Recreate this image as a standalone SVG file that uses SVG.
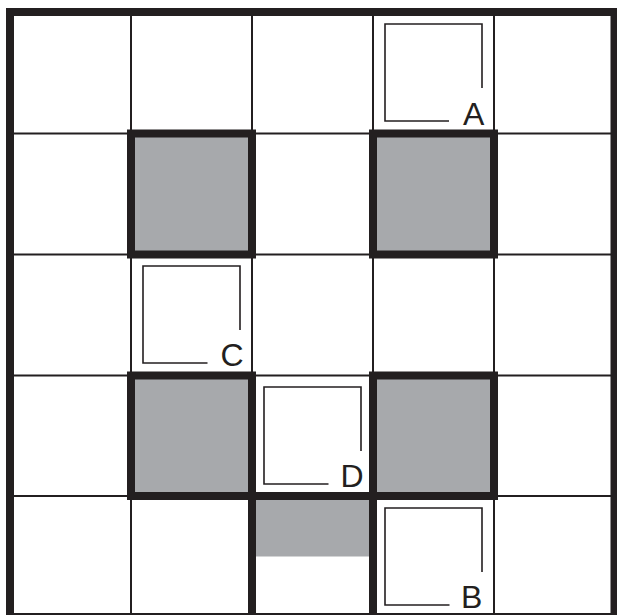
<svg xmlns="http://www.w3.org/2000/svg" width="617" height="615" viewBox="0 0 617 615">
  <style>
    .thin { stroke: #231f20; stroke-width: 2; fill: none; }
    .thick { stroke: #231f20; stroke-width: 8; fill: none; stroke-linecap: square; stroke-linejoin: miter; }
    .shade { fill: #a7a9ac; }
    .room { stroke: #231f20; stroke-width: 1.6; fill: none; }
    .lbl { font-family: "Liberation Sans", Arial, sans-serif; font-size: 32px; fill: #231f20; }
  </style>
  <rect x="0" y="0" width="617" height="615" fill="#ffffff"/>

  <g id="shaded-cells">
    <rect class="shade" x="131" y="133.5" width="121" height="121"/>
    <rect class="shade" x="373" y="133.5" width="121" height="121"/>
    <rect class="shade" x="131" y="375.5" width="121" height="120.5"/>
    <rect class="shade" x="373" y="375.5" width="121" height="120.5"/>
    <rect class="shade" x="252" y="496" width="121" height="60.5"/>
  </g>

  <g id="grid">
    <line class="thin" x1="131" y1="12" x2="131" y2="617"/>
    <line class="thin" x1="252" y1="12" x2="252" y2="617"/>
    <line class="thin" x1="373" y1="12" x2="373" y2="617"/>
    <line class="thin" x1="494" y1="12" x2="494" y2="617"/>
    <line class="thin" x1="10" y1="133.5" x2="615" y2="133.5"/>
    <line class="thin" x1="10" y1="254.5" x2="615" y2="254.5"/>
    <line class="thin" x1="10" y1="375.5" x2="615" y2="375.5"/>
    <line class="thin" x1="10" y1="496" x2="615" y2="496"/>
  </g>

  <g id="walls">
    <rect class="thick" x="131" y="133.5" width="121" height="121"/>
    <rect class="thick" x="373" y="133.5" width="121" height="121"/>
    <rect class="thick" x="131" y="375.5" width="121" height="120.5"/>
    <rect class="thick" x="373" y="375.5" width="121" height="120.5"/>
    <polyline class="thick" style="stroke-linecap:butt" points="252,620 252,496 373,496 373,620"/>
    <rect class="thick" x="10" y="12" width="604.5" height="605"/>
  </g>

  <g id="room-A">
    <polyline class="room" points="449,121 385,121 385,24 482,24 482,88"/>
    <text class="lbl" x="463" y="125">A</text>
  </g>
  <g id="room-C">
    <polyline class="room" points="207.5,363 143,363 143,266 240,266 240,330"/>
    <text class="lbl" x="220.5" y="366">C</text>
  </g>
  <g id="room-D">
    <polyline class="room" points="328.5,484 264,484 264,387 361,387 361,451"/>
    <text class="lbl" x="340.5" y="486.5">D</text>
  </g>
  <g id="room-B">
    <polyline class="room" points="449.5,605 385,605 385,508 482,508 482,572"/>
    <text class="lbl" x="461" y="608">B</text>
  </g>
</svg>
